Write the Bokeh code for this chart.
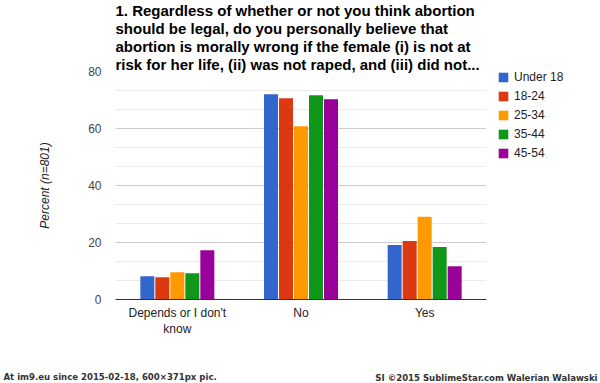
from bokeh.plotting import figure
from bokeh.models import (ColumnDataSource, FactorRange, Range1d, FixedTicker,
                          Legend, LegendItem, Title, Label)
from bokeh.transform import dodge
from bokeh.embed import file_html
from bokeh.resources import INLINE

# ---- data ----
categories = ["Depends or I don't\nknow", "No", "Yes"]
series_names = ["Under 18", "18-24", "25-34", "35-44", "45-54"]
under_18 = [8.2, 72.0, 19.1]
age_18_24 = [7.8, 70.6, 20.5]
age_25_34 = [9.6, 60.8, 29.0]
age_35_44 = [9.2, 71.7, 18.4]
age_45_54 = [17.3, 70.3, 11.7]
y_ticks = [0, 20, 40, 60, 80]
title_lines = [
    "1. Regardless of whether or not you think abortion",
    "should be legal, do you personally believe that",
    "abortion is morally wrong if the female (i) is not at",
    "risk for her life, (ii) was not raped, and (iii) did not...",
]
y_label = "Percent (n=801)"
footer_left = "At im9.eu since 2015-02-18, 600\u00d7371px pic."
footer_right = "SI \u00a92015 SublimeStar.com Walerian Walawski"

colors = ["#3366cc", "#dc3912", "#ff9900", "#109618", "#990099"]
cols = ["u18", "a1824", "a2534", "a3544", "a4554"]

source = ColumnDataSource(dict(cat=categories, u18=under_18, a1824=age_18_24,
                               a2534=age_25_34, a3544=age_35_44, a4554=age_45_54))

FONT = "Liberation Sans"

p = figure(x_range=FactorRange(*categories, range_padding=0),
           y_range=Range1d(0, 80),
           frame_width=371, frame_height=228,
           min_border_left=115, min_border_right=114,
           min_border_top=71, min_border_bottom=84,
           output_backend="svg", toolbar_location=None, tools="")
p.outline_line_color = None
p.background_fill_color = "white"
p.border_fill_color = "white"

cat_w = 371 / 3.0
bar_w = 14 / cat_w
pitch = 15 / cat_w
renderers = []
for i, (c, col) in enumerate(zip(cols, colors)):
    r = p.vbar(x=dodge("cat", (i - 2) * pitch, range=p.x_range), top=c, width=bar_w,
               source=source, fill_color=col, line_color=None)
    renderers.append(r)

# grid
minor = [6.667, 13.333, 26.667, 33.333, 46.667, 53.333, 66.667, 73.333]
p.ygrid.ticker = FixedTicker(ticks=y_ticks, minor_ticks=minor)
p.ygrid.grid_line_color = "#cccccc"
p.ygrid.minor_grid_line_color = "#ebebeb"
p.xgrid.grid_line_color = None

p.yaxis.ticker = FixedTicker(ticks=y_ticks)
p.yaxis.axis_line_color = None
p.yaxis.major_tick_line_color = None
p.yaxis.minor_tick_line_color = None
p.yaxis.major_label_text_font = FONT
p.yaxis.major_label_text_font_size = "12px"
p.yaxis.major_label_text_color = "#444444"
p.yaxis.major_label_standoff = 8
p.yaxis.axis_label = y_label
p.yaxis.axis_label_text_font = FONT
p.yaxis.axis_label_text_font_size = "12px"
p.yaxis.axis_label_text_font_style = "italic"
p.yaxis.axis_label_text_color = "#222222"
p.yaxis.axis_label_standoff = 33

p.xaxis.axis_line_color = "#333333"
p.xaxis.axis_line_width = 1
p.xaxis.major_tick_line_color = None
p.xaxis.minor_tick_line_color = None
p.xaxis.major_label_text_font = FONT
p.xaxis.major_label_text_font_size = "12px"
p.xaxis.major_label_text_color = "#222222"
p.xaxis.major_label_standoff = 0

legend = Legend(items=[LegendItem(label=n, renderers=[r]) for n, r in zip(series_names, renderers)],
                location=(11, 137), orientation="vertical",
                glyph_width=12, glyph_height=12, label_height=19, spacing=0,
                label_standoff=5, padding=0, margin=0,
                border_line_color=None, background_fill_alpha=0,
                label_text_font=FONT, label_text_font_size="12px",
                label_text_color="#222222")
p.add_layout(legend, "right")

# title lines: later-added titles sit further from the frame
for k, line in enumerate(reversed(title_lines)):
    p.add_layout(Title(text=line, align="left", standoff=(-2 if k == 0 else -1),
                       text_font=FONT, text_font_size="15px",
                       text_font_style="bold", text_color="#000000"), "above")

# footer (each label gets its own slot in the bottom panel; y is relative to that slot)
FOOT_FONT = "DejaVu Sans Condensed"
for fx, fy, ftext, falign in [(-112, -26, footer_left, "left"),
                              (482, -16, footer_right, "right")]:
    p.add_layout(Label(x=fx, y=fy, x_units="screen", y_units="screen", text=ftext,
                       text_align=falign, text_baseline="middle",
                       text_font=FOOT_FONT, text_font_size="9.5px",
                       text_font_style="bold", text_color="#333333"), "below")

open("out.html", "w").write(file_html(p, INLINE))
